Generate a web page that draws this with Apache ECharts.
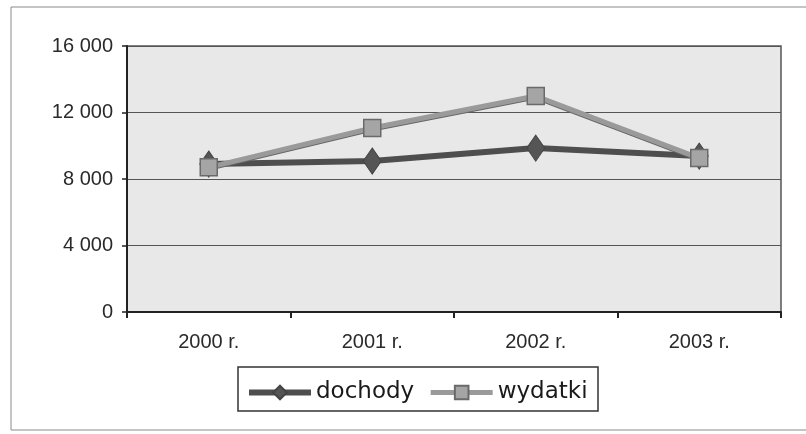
<!DOCTYPE html>
<html>
<head>
<meta charset="utf-8">
<script src="https://cdn.jsdelivr.net/npm/echarts@6/dist/echarts.min.js"></script>
<style>
  html, body { margin: 0; padding: 0; background: #fff; }
  #chart { width: 806px; height: 434px; }
</style>
</head>
<body>
<div id="chart"></div>
<script>
// dane
const years = ['2000 r.', '2001 r.', '2002 r.', '2003 r.'];
const dochody = [8900, 9080, 9860, 9380];
const wydatki = [8700, 11070, 12990, 9260];
const yTicks = [0, 4000, 8000, 12000, 16000];

const fmt = v => v >= 1000 ? Math.floor(v / 1000) + ' ' + String(v % 1000).padStart(3, '0') : String(v);

const chart = echarts.init(document.getElementById('chart'));
const option = {
  backgroundColor: '#fff',
  animation: false,
  textStyle: { fontFamily: 'Liberation Sans' },
  graphic: [
    {
      type: 'rect',
      shape: { x: 11, y: 7, width: 820, height: 423 },
      style: { fill: 'none', stroke: '#8a8a8a', lineWidth: 1 },
      z: -1
    },
    {
      type: 'rect',
      shape: { x: 238, y: 367, width: 360, height: 44 },
      style: { fill: '#fff', stroke: '#333', lineWidth: 1.5 },
      z: 0
    }
  ],
  grid: {
    left: 127, right: 25, top: 46, bottom: 122,
    show: true,
    backgroundColor: '#e8e8e8',
    borderColor: '#555',
    borderWidth: 1.5
  },
  legend: {
    left: 241,
    top: 376,
    itemGap: 14,
    itemWidth: 62,
    itemHeight: 17,
    textStyle: { fontSize: 23, color: '#1a1a1a', fontFamily: 'DejaVu Sans' },
    data: [
      { name: 'dochody', lineStyle: { width: 6, color: '#4e4e4e' } },
      { name: 'wydatki', lineStyle: { width: 5, color: '#9a9a9a' } }
    ],
    z: 5
  },
  xAxis: {
    type: 'category',
    data: years,
    boundaryGap: true,
    axisLine: { lineStyle: { color: '#222', width: 2 } },
    axisTick: { show: true, length: 6, lineStyle: { color: '#222', width: 2 } },
    axisLabel: { fontSize: 20, color: '#2a2a2a', margin: 20 },
    splitLine: { show: false }
  },
  yAxis: {
    type: 'value',
    min: yTicks[0],
    max: yTicks[yTicks.length - 1],
    interval: 4000,
    axisLine: { show: true, lineStyle: { color: '#222', width: 2 } },
    axisTick: { show: true, length: 5, lineStyle: { color: '#222', width: 1.5 } },
    axisLabel: { fontSize: 20, color: '#2a2a2a', margin: 14, formatter: fmt },
    splitLine: { show: true, lineStyle: { color: '#555', width: 1.2 } }
  },
  series: [
    {
      name: 'dochody',
      type: 'line',
      data: dochody,
      symbol: 'diamond',
      symbolSize: [18, 26],
      lineStyle: { color: '#4e4e4e', width: 6 },
      itemStyle: { color: '#555', borderColor: '#444', borderWidth: 1 },
      z: 3
    },
    {
      name: 'wydatki',
      type: 'line',
      data: wydatki,
      symbol: 'rect',
      symbolSize: 17,
      lineStyle: { color: '#9a9a9a', width: 5, shadowColor: '#666', shadowBlur: 0, shadowOffsetY: 1 },
      itemStyle: { color: '#a5a5a5', borderColor: '#6a6a6a', borderWidth: 1.5 },
      z: 4
    }
  ]
};
chart.setOption(option);
</script>
</body>
</html>
